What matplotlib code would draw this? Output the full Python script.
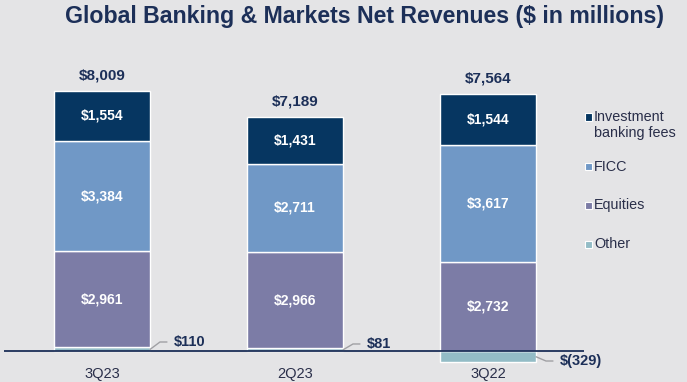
import numpy as np
import matplotlib.pyplot as plt
from matplotlib.patches import Rectangle

# data ($ in millions)
quarters = ['3Q23', '2Q23', '3Q22']
ib_fees = [1554, 1431, 1544]
ficc = [3384, 2711, 3617]
equities = [2961, 2966, 2732]
other = [110, 81, -329]
totals = [8009, 7189, 7564]
other_labels = ['$110', '$81', '$(329)']
other_label_y = [277, 216, -308]

series_names = ['Investment\nbanking fees', 'FICC', 'Equities', 'Other']
colors = ['#063661', '#7098c6', '#7c7ca6', '#93bcc6']
navy = '#1c2f58'
bg = '#e4e4e6'

plt.rcParams['font.family'] = ['Liberation Sans', 'DejaVu Sans']

fig = plt.figure(figsize=(6.87, 3.82), dpi=100, facecolor=bg)
ax = fig.add_axes([4 / 687, 18 / 382, 580 / 687, 286 / 382])
ax.set_facecolor(bg)

x = np.arange(len(quarters))
w = 0.5
oth = np.array(other)
eq_bottom = np.where(oth > 0, oth, 0)
ficc_bottom = eq_bottom + np.array(equities)
ib_bottom = ficc_bottom + np.array(ficc)

kw = dict(width=w, edgecolor='white', linewidth=1)
ax.bar(x, oth, color=colors[3], **kw)
ax.bar(x, equities, bottom=eq_bottom, color=colors[2], **kw)
ax.bar(x, ficc, bottom=ficc_bottom, color=colors[1], **kw)
ax.bar(x, ib_fees, bottom=ib_bottom, color=colors[0], **kw)

# segment labels
for i in range(len(x)):
    for val, bot in [(equities[i], eq_bottom[i]), (ficc[i], ficc_bottom[i]), (ib_fees[i], ib_bottom[i])]:
        ax.text(x[i], bot + val / 2, f'${val:,}', ha='center', va='center',
                color='white', fontsize=10, fontweight='bold')
    ax.text(x[i], ib_bottom[i] + ib_fees[i] + 480, f'${totals[i]:,}', ha='center', va='center',
            color=navy, fontsize=11, fontweight='bold')
    # leader line for "Other"
    y0 = oth[i] / 2 if oth[i] > 0 else oth[i] * 0.55
    ax.plot([x[i] + w / 2, x[i] + w / 2 + 0.05, x[i] + w / 2 + 0.085],
            [y0, other_label_y[i], other_label_y[i]], color='#a0a0a4', lw=1, clip_on=False)
    ax.text(x[i] + w / 2 + 0.12, other_label_y[i], other_labels[i], ha='left', va='center',
            color=navy, fontsize=10.5, fontweight='bold')

ax.axhline(0, color=navy, lw=1.3)
ax.set_xlim(-0.508, 2.497)
ax.set_ylim(-400, 8400)
ax.set_xticks(x)
ax.set_xticklabels(quarters, fontsize=10.5, color='#2a2f4a')
ax.tick_params(axis='x', length=0, pad=2)
ax.set_yticks([])
for s in ax.spines.values():
    s.set_visible(False)

fig.text(364 / 687, 1 - 17 / 382, 'Global Banking & Markets Net Revenues ($ in millions)',
         ha='center', va='center', fontsize=16.7, fontweight='bold', color=navy)

# legend
leg_y = [117, 167, 205, 244]
for name, c, yy in zip(series_names, colors, leg_y):
    fy = 1 - yy / 382
    fig.patches.append(Rectangle((585 / 687, fy - 3.5 / 382), 7 / 687, 7 / 382,
                                 transform=fig.transFigure, facecolor=c, edgecolor='white', lw=0.8))
    fig.text(594 / 687, fy + 7 / 382, name, ha='left', va='top', fontsize=10.4,
             color='#2a2f4a', linespacing=1.2)

fig.savefig('out.png', dpi=100, facecolor=bg)
